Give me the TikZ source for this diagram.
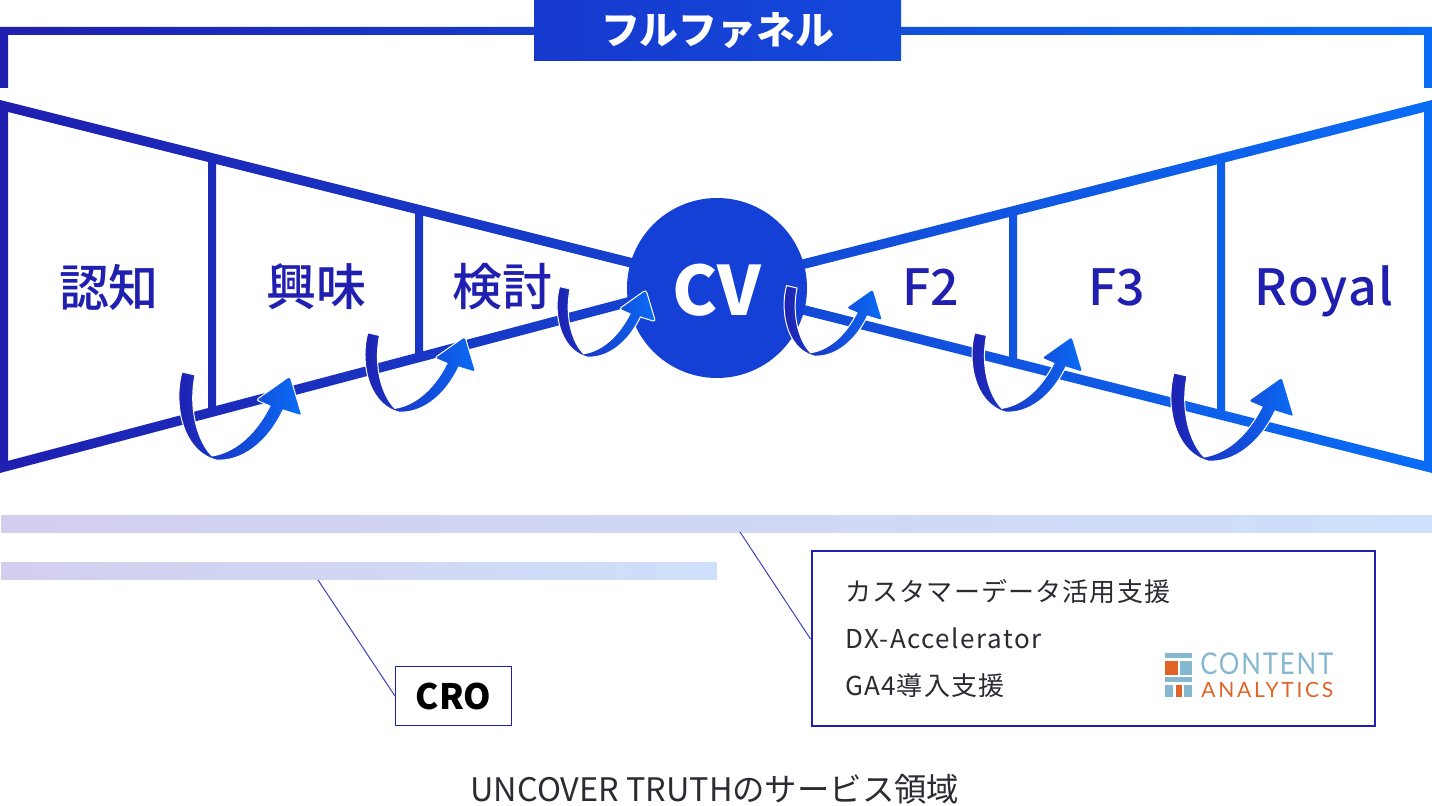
\documentclass[tikz,border=0pt]{standalone}
\usepackage{fontspec}
\setmainfont{Noto Sans CJK JP}
\newfontfamily\medfont{Noto Sans CJK JP Medium}
\newfontfamily\logofont{Lato}
\definecolor{fnldark}{HTML}{1F1FB0}
\definecolor{fnlblue}{HTML}{0A6CF5}
\definecolor{fnlmid}{HTML}{1540D5}
\definecolor{barleft}{HTML}{D2CEEE}
\definecolor{barright}{HTML}{CEE0FB}
\definecolor{inktext}{HTML}{2B2B33}
\definecolor{logoblue}{HTML}{85B8D0}
\definecolor{logoorange}{HTML}{E06428}
\tikzset{
  stage/.style={text=fnldark,font=\medfont\fontsize{25}{29}\selectfont,inner sep=0pt},
  lightbar/.style={left color=barleft,right color=barright,minimum height=8.5pt,inner sep=0pt,anchor=north west},
  svcbox/.style={draw=fnldark,line width=1pt,fill=white,inner sep=0pt,anchor=north west},
  svcline/.style={text=inktext,font=\fontsize{13}{16}\selectfont\addfontfeature{LetterSpace=4.5},inner sep=0pt,anchor=west},
  tapline/.style={draw=fnldark!85,line width=.5pt},
  pics/turnarrow/.style={code={
    \shadedraw[draw=white,line width=.5pt,left color=fnldark,right color=fnlblue]
      (2,2) .. controls (-6,30) and (0,80) .. (36,90)
      .. controls (62,92) and (88,72) .. (103,40)
      [rounded corners=1.5pt] -- (122,46) -- (110,6) -- (76,30) [sharp corners] -- (90,36)
      .. controls (78,60) and (58,82) .. (32,86)
      .. controls (18,72) and (8,40) .. (15,5) -- cycle;
  }}
}
\begin{document}
\begin{tikzpicture}[x=.5pt,y=-.5pt]
  \useasboundingbox (0,0) rectangle (1432,806);
  % bracket and funnel share one gradient
  \begin{scope}
    \clip \foreach \xa/\ya/\xb/\yb in {0/31/540/31,895/31/1432/31} {
        (\xa,\ya-4) -- (\xb,\yb-4) -- (\xb,\yb+4) -- (\xa,\ya+4) -- cycle }
      \foreach \xa/\ya/\xb/\yb in {0/105/640/265,0/468/640/299,800/265/1432/105,800/309/1432/468} {
        (\xa,\ya-5) -- (\xb,\yb-5) -- (\xb,\yb+5) -- (\xa,\ya+5) -- cycle }
      \foreach \xa/\ya/\yb in {4/28/88,1428/28/88,4/102/471,1428/102/471,212/158/412,419/210/358,1013/210/360,1221/158/412} {
        (\xa-4,\ya) -- (\xa+4,\ya) -- (\xa+4,\yb) -- (\xa-4,\yb) -- cycle };
    \shade[left color=fnldark,right color=fnlblue] (0,0) rectangle (1432,480);
  \end{scope}
  \node[left color=fnlmid!80!fnldark,right color=fnlmid!80!fnlblue,minimum width=183.5pt,minimum height=30pt,inner sep=0pt,text=white,font=\bfseries\fontsize{19.4}{22}\selectfont] (fullfunnel) at (717.5,31) {フルファネル};
  \node[circle,fill=fnlmid,minimum size=90pt,inner sep=0pt] (cv) at (717,288) {};
  \node[text=white,inner sep=0pt,font=\bfseries\fontsize{34}{38}\selectfont] (cvtext) at (717,290) {CV};
  \node[stage] (ninchi) at (109,287) {認知};
  \node[stage] (kyomi) at (316,287) {興味};
  \node[stage] (kento) at (502,287) {検討};
  \node[stage] (f2) at (931,287) {F2};
  \node[stage] (f3) at (1117,287) {F3};
  \node[stage,font=\medfont\fontsize{25}{29}\selectfont\addfontfeature{LetterSpace=3}] (royal) at (1324,291) {Royal};
  \pic (turna) at (180,370) {turnarrow};
  \pic[scale=.9] (turnb) at (366,331) {turnarrow};
  \pic[scale=.8] (turnc) at (558,285) {turnarrow};
  \pic[scale=.8] (turnd) at (785,284) {turnarrow};
  \pic[scale=.9] (turne) at (973,331) {turnarrow};
  \pic (turnf) at (1172,371) {turnarrow};
  % service bars
  \node[lightbar,minimum width=715.5pt] (barfull) at (1,515) {};
  \node[lightbar,minimum width=357.5pt] (barcro) at (1,562) {};
  \node[svcbox,minimum width=281.5pt,minimum height=87.5pt] (svc) at (810.5,550.5) {};
  \node[svcbox,line width=.6pt,minimum width=58pt,minimum height=29.5pt,text=black,font=\bfseries\fontsize{17.5}{20}\selectfont] (cro) at (395,666) {\raisebox{-.8pt}{CRO}};
  \coordinate (tapfull) at (740,532);
  \coordinate (tapcro) at (318,580);
  \draw[tapline] (tapfull) -- (svc.west);
  \draw[tapline] (tapcro) -- (cro.west);
  \node[svcline] (svca) at (845,592) {カスタマーデータ活用支援};
  \node[svcline,font=\fontsize{13}{16}\selectfont\addfontfeature{LetterSpace=5.7}] (svcb) at (845,638) {DX-Accelerator};
  \node[svcline] (svcc) at (845,686) {GA4導入支援};
  % logo
  \fill[logoblue] (1165,653) rectangle (1192,658);
  \fill[logoorange] (1165,661) rectangle (1178,675);
  \fill[logoblue] (1180,661) rectangle (1192,675);
  \fill[logoblue] (1165,677) rectangle (1192,682);
  \fill[logoblue] (1165,685) rectangle (1173,697);
  \fill[logoorange] (1176,685) rectangle (1182,697);
  \fill[logoblue] (1184,685) rectangle (1192,697);
  \node[text=logoblue,inner sep=0pt,anchor=west,transform shape,xscale=.858,font=\logofont\fontsize{15}{16}\selectfont\addfontfeature{LetterSpace=7}] (logoa) at (1200,664) {CONTENT};
  \node[text=logoorange,inner sep=0pt,anchor=west,font=\logofont\fontsize{10.5}{12}\selectfont\addfontfeature{LetterSpace=13}] (logob) at (1201,690) {ANALYTICS};
  \node[text=inktext,inner sep=0pt,font=\fontsize{16.2}{20}\selectfont] (caption) at (715,789) {UNCOVER TRUTHのサービス領域};
\end{tikzpicture}
\end{document}
